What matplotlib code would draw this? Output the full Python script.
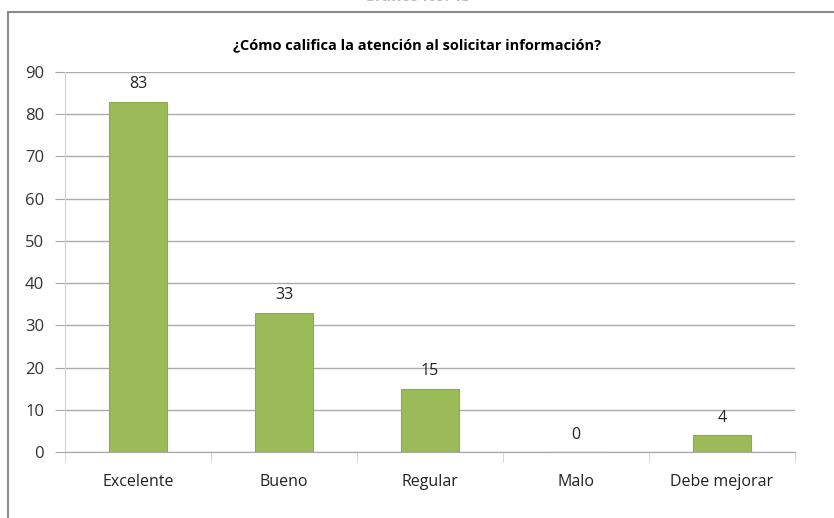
import matplotlib.pyplot as plt
from matplotlib.patches import Rectangle

plt.rcParams['font.family'] = ['Open Sans', 'DejaVu Sans']

categories = ['Excelente', 'Bueno', 'Regular', 'Malo', 'Debe mejorar']
values = [83, 33, 15, 0, 4]
title = '¿Cómo califica la atención al solicitar información?'

fig = plt.figure(figsize=(8.34, 5.18), dpi=100)
ax = fig.add_axes([0.078, 0.1274, 0.875, 0.7336])

# outer chart frame (cut off at the right and bottom of the image)
fig.patches.append(Rectangle((0.0096, -0.05), 1.2, 1.027, transform=fig.transFigure,
                             fill=False, edgecolor='#8a8a8a', linewidth=1.5))
# figure caption, mostly cut off above the image
fig.text(0.5, 1.0055, 'Gráfico No. 13', ha='center', va='center', fontsize=11,
         fontweight='bold', color='#b8b8b8')

x = range(len(categories))
bars = ax.bar(x, values, width=0.4, color='#9BBB59', edgecolor='#8cab4e', linewidth=0.8, zorder=3)
for xi, v in zip(x, values):
    ax.text(xi, v + 2.2, str(v), ha='center', va='bottom', fontsize=11.5, color='#222222')

ax.set_xlim(-0.5, len(categories) - 0.5)
ax.set_ylim(0, 90)
ax.set_yticks(range(0, 91, 10))
ax.set_xticks(list(x))
ax.set_xticklabels(categories)
ax.yaxis.grid(True, color='#ababab', linewidth=1)
ax.set_axisbelow(True)

for s in ['top', 'right']:
    ax.spines[s].set_visible(False)
ax.spines['left'].set_color('#d0d0d0')
ax.spines['bottom'].set_color('#a6a6a6')

# category boundary ticks
ax.set_xticks([i - 0.5 for i in range(len(categories) + 1)], minor=True)
ax.tick_params(axis='x', which='minor', length=7, color='#d0d0d0')
ax.tick_params(axis='x', which='major', length=0, pad=16, labelsize=11.5, labelcolor='#222222')
ax.tick_params(axis='y', length=7, color='#a6a6a6', labelsize=12, labelcolor='#333333', pad=8)

fig.text(0.5, 1 - 45 / 518, title, ha='center', va='center', fontsize=10.5, fontweight='bold')

fig.savefig('out.png', dpi=100)
